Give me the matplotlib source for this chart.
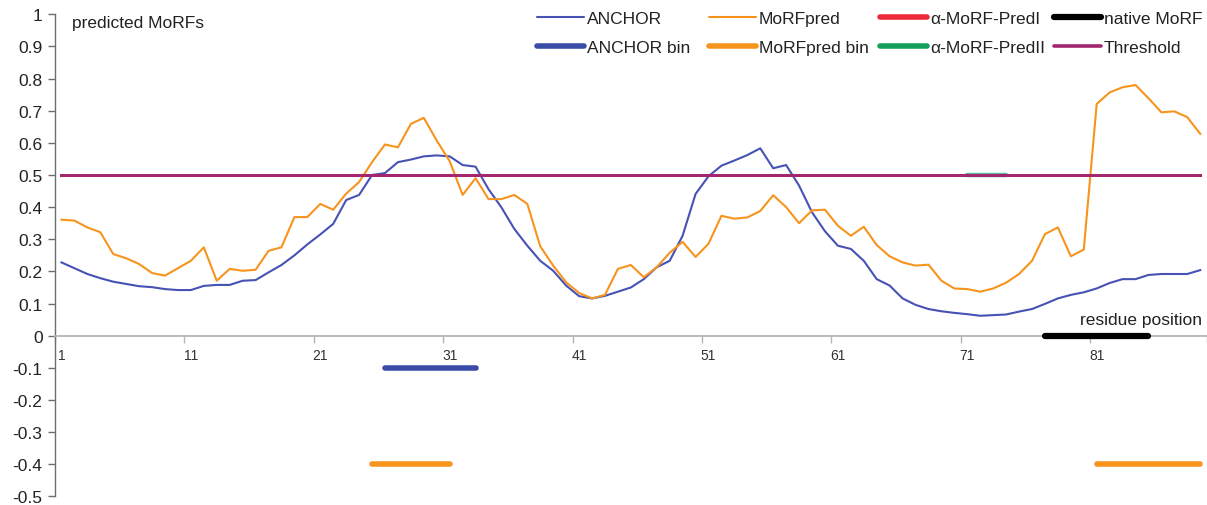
import matplotlib
matplotlib.use('Agg')
import matplotlib.pyplot as plt
from matplotlib.lines import Line2D

plt.rcParams['font.family'] = ['Liberation Sans', 'DejaVu Sans']

# ---------------- data ----------------
residues = list(range(1, 90))

anchor = [0.228, 0.210, 0.192, 0.179, 0.168, 0.161, 0.154, 0.151, 0.145, 0.142,
          0.142, 0.155, 0.158, 0.158, 0.171, 0.173, 0.197, 0.220, 0.250, 0.284,
          0.315, 0.348, 0.422, 0.438, 0.500, 0.506, 0.540, 0.548, 0.558, 0.561,
          0.558, 0.531, 0.526, 0.456, 0.399, 0.332, 0.280, 0.233, 0.202, 0.156,
          0.123, 0.116, 0.124, 0.137, 0.150, 0.176, 0.213, 0.233, 0.311, 0.441,
          0.496, 0.529, 0.545, 0.562, 0.583, 0.521, 0.531, 0.467, 0.384, 0.325,
          0.280, 0.270, 0.233, 0.176, 0.156, 0.116, 0.096, 0.083, 0.076, 0.071,
          0.067, 0.062, 0.064, 0.066, 0.075, 0.083, 0.099, 0.116, 0.127, 0.135,
          0.147, 0.164, 0.176, 0.176, 0.189, 0.192, 0.192, 0.192, 0.204]

morfpred = [0.361, 0.358, 0.337, 0.322, 0.254, 0.241, 0.223, 0.195, 0.187, 0.210,
            0.233, 0.275, 0.171, 0.208, 0.202, 0.205, 0.264, 0.275, 0.369, 0.369,
            0.410, 0.392, 0.442, 0.478, 0.540, 0.595, 0.586, 0.659, 0.678, 0.607,
            0.543, 0.438, 0.490, 0.425, 0.425, 0.438, 0.410, 0.278, 0.218, 0.166,
            0.133, 0.116, 0.127, 0.208, 0.220, 0.182, 0.213, 0.258, 0.292, 0.245,
            0.286, 0.373, 0.364, 0.368, 0.388, 0.437, 0.400, 0.350, 0.390, 0.392,
            0.342, 0.311, 0.339, 0.282, 0.247, 0.228, 0.218, 0.221, 0.171, 0.147,
            0.145, 0.137, 0.147, 0.165, 0.192, 0.233, 0.316, 0.337, 0.247, 0.268,
            0.721, 0.757, 0.773, 0.780, 0.739, 0.695, 0.698, 0.680, 0.628]

anchor_bin_segments = [(26, 33)]
anchor_bin_level = -0.1
morfpred_bin_segments = [(25, 31), (81, 89)]
morfpred_bin_level = -0.4
alpha_predI_segments = []
alpha_predII_segments = [(71, 74)]
alpha_predII_level = 0.5
native_morf_segments = [(77, 85)]
native_morf_level = 0.0
threshold = 0.5

ytick_values = [1, 0.9, 0.8, 0.7, 0.6, 0.5, 0.4, 0.3, 0.2, 0.1, 0,
                -0.1, -0.2, -0.3, -0.4, -0.5]
ytick_labels = ['1', '0.9', '0.8', '0.7', '0.6', '0.5', '0.4', '0.3', '0.2', '0.1', '0',
                '-0.1', '-0.2', '-0.3', '-0.4', '-0.5']
xtick_labels = ['1', '11', '21', '31', '41', '51', '61', '71', '81']

# ---------------- style ----------------
C_ANCHOR = '#4652B4'
C_ANCHOR_BIN = '#3A4CA8'
C_MORF = '#F7941D'
C_RED = '#EE2A3A'
C_GREEN = '#13A05A'
C_THR = '#A3276E'
C_BLACK = '#000000'
TXT = '#222222'
FS = 12.5

W, H = 1207, 506
fig = plt.figure(figsize=(W / 100, H / 100), dpi=100)
ax = fig.add_axes([55 / W, 1 - 497.4 / H, 1151.7 / W, 482.1 / H])

n = len(residues)
ax.set_xlim(0.5, n + 0.5)
ax.set_ylim(-0.5, 1.0)


def seg_plot(segments, level, **kw):
    for a, b in segments:
        xs = list(range(a, b + 1))
        ax.plot(xs, [level] * len(xs), solid_capstyle='round', **kw)


ax.plot(residues, anchor, color=C_ANCHOR, lw=1.5, zorder=3)
ax.plot(residues, morfpred, color=C_MORF, lw=1.5, zorder=3)
seg_plot(anchor_bin_segments, anchor_bin_level, color=C_ANCHOR_BIN, lw=4.0, zorder=4)
seg_plot(morfpred_bin_segments, morfpred_bin_level, color=C_MORF, lw=4.0, zorder=4)
seg_plot(alpha_predI_segments, 0.5, color=C_RED, lw=4.0, zorder=2)
seg_plot(alpha_predII_segments, alpha_predII_level, color='#5fc0a0', lw=3.2, zorder=2)
ax.plot(residues, [threshold] * n, color=C_THR, lw=2.2, zorder=4)
seg_plot(native_morf_segments, native_morf_level, color=C_BLACK, lw=4.5, zorder=5)

# axes styling
for s in ['top', 'right']:
    ax.spines[s].set_visible(False)
ax.spines['bottom'].set_position(('data', 0))
ax.spines['bottom'].set_color('#b5b5b5')
ax.spines['bottom'].set_linewidth(1.3)
ax.spines['left'].set_color('#6e6e6e')
ax.spines['left'].set_linewidth(1.0)

ax.set_yticks(ytick_values)
ax.set_yticklabels(ytick_labels)
ax.tick_params(axis='y', direction='out', length=5, width=1, color='#6e6e6e',
               labelsize=FS, labelcolor=TXT, pad=4)

xt = [int(s) for s in xtick_labels]
ax.set_xticks(xt)
ax.set_xticklabels(xtick_labels)
ax.set_xticks([v - 0.5 for v in xt] + [n + 0.5], minor=True)
ax.tick_params(axis='x', which='major', length=0, labelsize=10, labelcolor='#333333', pad=9)
ax.tick_params(axis='x', which='minor', direction='out', length=5, width=1, color='#b5b5b5')

# texts
fig.text(72 / W, 1 - 24 / H, 'predicted MoRFs', fontsize=FS, color=TXT, ha='left', va='center')
fig.text(1202 / W, 1 - 320 / H, 'residue position', fontsize=FS, color=TXT, ha='right', va='center')

# legend: four columns of two rows each
cols = [
    (537, [('ANCHOR', C_ANCHOR, 1.5), ('ANCHOR bin', C_ANCHOR_BIN, 4.0)]),
    (709, [('MoRFpred', C_MORF, 1.5), ('MoRFpred bin', C_MORF, 4.0)]),
    (880, [('α-MoRF-PredI', C_RED, 4.0), ('α-MoRF-PredII', C_GREEN, 4.0)]),
    (1054, [('native MoRF', C_BLACK, 4.5), ('Threshold', C_THR, 2.6)]),
]
fs_px = FS * 100 / 72
for x0, items in cols:
    handles = [Line2D([], [], color=c, lw=lw, solid_capstyle='round') for _, c, lw in items]
    labels = [t for t, _, _ in items]
    leg = fig.legend(handles, labels, loc='upper left',
                     bbox_to_anchor=(x0 / W, 1 - 12 / H), bbox_transform=fig.transFigure,
                     frameon=False, fontsize=FS, borderpad=0, borderaxespad=0,
                     handlelength=47 / fs_px, handletextpad=3 / fs_px, labelspacing=0.81)
    for t in leg.get_texts():
        t.set_color(TXT)

fig.savefig('out.png', dpi=100)
